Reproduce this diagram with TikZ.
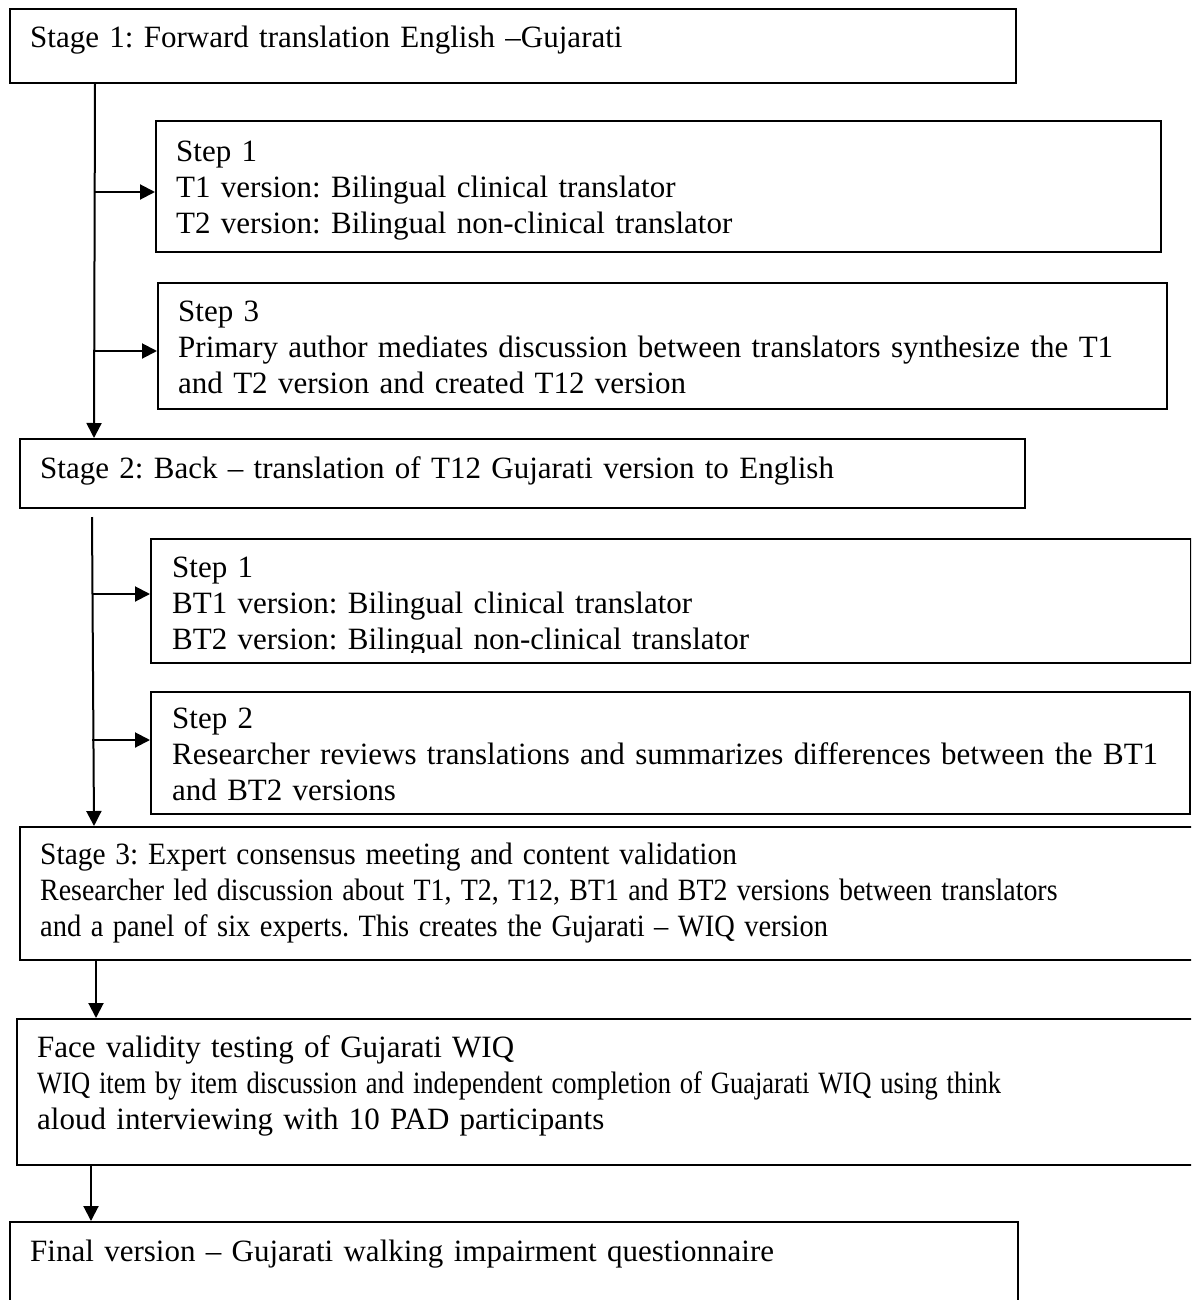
\documentclass[tikz,border=0pt]{standalone}
\usepackage{graphicx}
\usepackage{fontspec}
\setmainfont{Liberation Serif}
\usetikzlibrary{arrows.meta}
\newcommand{\ls}{\rule[-10.8pt]{0pt}{36pt}}
\newcommand{\sq}[2]{\scalebox{#1}[1]{#2}}
\begin{document}
\frenchspacing
\begin{tikzpicture}[x=1pt,y=-1pt,
  boxst/.style={draw=black,line width=1.8pt,fill=white,inner sep=0pt,anchor=north west},
  txt/.style={anchor=north west,inner sep=0pt,align=left,font=\fontsize{31}{36}\selectfont,text width=1150pt},
  arr/.style={line width=2pt,-{Triangle[length=15pt,width=15pt]}}]
\clip (0,0) rectangle (1191,1300);
\fill[white] (0,0) rectangle (1191,1300);
% boxes
\node[boxst,minimum width=1006pt,minimum height=74pt] (s1) at (9,8) {};
\node[boxst,minimum width=1005pt,minimum height=131pt] (t1) at (155,120) {};
\node[boxst,minimum width=1009pt,minimum height=126pt] (t3) at (157,282) {};
\node[boxst,minimum width=1005pt,minimum height=69pt] (s2) at (19,438) {};
\node[boxst,minimum width=1040pt,minimum height=124pt] (b1) at (150,538) {};
\node[boxst,minimum width=1039pt,minimum height=122pt] (b2) at (150,691) {};
\node[boxst,minimum width=1190pt,minimum height=133pt] (s3) at (19,826) {};
\node[boxst,minimum width=1190pt,minimum height=146pt] (fv) at (16,1018) {};
\node[boxst,minimum width=1008pt,minimum height=110pt] (fin) at (9,1221) {};
% texts
\node[txt] (s1t) at (30,22) {\ls Stage 1: Forward translation English –Gujarati};
\node[txt] (t1t) at (176,136) {\ls Step 1\\\ls T1 version: Bilingual clinical translator\\\ls T2 version: Bilingual non-clinical translator};
\node[txt] (t3t) at (178,296) {\ls Step 3\\\ls Primary author mediates discussion between translators synthesize the T1\\\ls and T2 version and created T12 version};
\node[txt] (s2t) at (40,453) {\ls Stage 2: Back – translation of T12 Gujarati version to English};
\begin{scope}
\clip (150,538) rectangle (1190,652);
\node[txt] (b1t) at (172,552) {\ls Step 1\\\ls BT1 version: Bilingual clinical translator\\\ls BT2 version: Bilingual non-clinical translator};
\end{scope}
\node[txt] (b2t) at (172,703) {\ls Step 2\\\ls Researcher reviews translations and summarizes differences between the BT1\\\ls and BT2 versions};
\node[txt] (s3t) at (40,839) {\ls \sq{0.95}{Stage 3: Expert consensus meeting and content validation}\\\ls \sq{0.90}{Researcher led discussion about T1, T2, T12, BT1 and BT2 versions between translators}\\\ls \sq{0.918}{and a panel of six experts. This creates the Gujarati – WIQ version}};
\node[txt] (fvt) at (37,1032) {\ls Face validity testing of Gujarati WIQ\\\ls \sq{0.856}{WIQ item by item discussion and independent completion of Guajarati WIQ using think}\\\ls aloud interviewing with 10 PAD participants};
\node[txt] (fint) at (30,1236) {\ls Final version – Gujarati walking impairment questionnaire};
% connectors
\coordinate (a0) at (s1.south west -| 95,0);
\coordinate (a1) at (95,192);
\coordinate (a2) at (95,351);
\draw[arr] (a0) -- (s2.north west -| 94,0);
\draw[arr] (a1) -- (a1 -| t1.west);
\draw[arr] (a2) -- (a2 -| t3.west);
\coordinate (c0) at (92,517);
\coordinate (c1) at (92,594);
\coordinate (c2) at (92,740);
\draw[arr] (c0) -- (s3.north west -| 94,0);
\draw[arr] (c1) -- (c1 -| b1.west);
\draw[arr] (c2) -- (c2 -| b2.west);
\draw[arr] (s3.south west -| 96,0) -- (fv.north west -| 96,0);
\draw[arr] (fv.south west -| 91,0) -- (fin.north west -| 91,0);
\end{tikzpicture}
\end{document}
